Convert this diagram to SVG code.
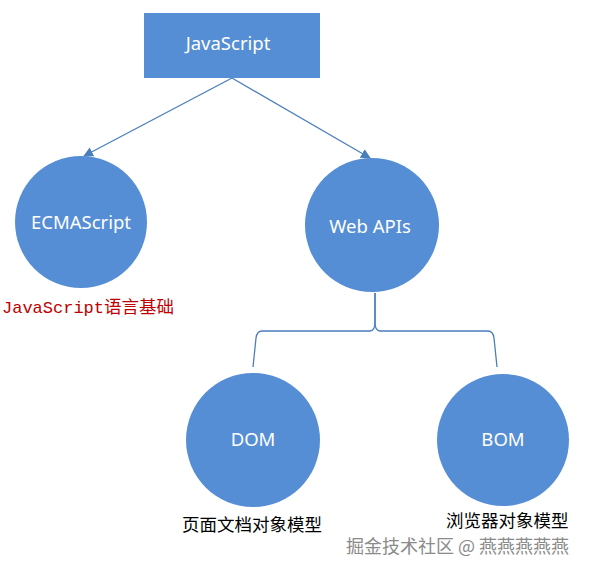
<svg xmlns="http://www.w3.org/2000/svg" width="590" height="569" viewBox="0 0 590 569">
<defs>
<style>
.shape{fill:#558ed5}
.lbl{fill:#ffffff;font-family:"Noto Sans","Open Sans",sans-serif;font-size:18.5px;text-anchor:middle}
.cap{fill:#000000;font-family:"Noto Sans CJK SC",sans-serif;font-size:17.5px}
.conn{stroke:#4a7ebb;stroke-width:1.3;fill:none}
</style>
<marker id="ah" markerWidth="10" markerHeight="10" refX="9" refY="5" orient="auto" markerUnits="userSpaceOnUse">
<path d="M0,0 L10,5 L0,10 Z" fill="#4a7ebb"/>
</marker>
</defs>
<rect width="590" height="569" fill="#ffffff"/>
<g id="connectors">
<line class="conn" x1="232" y1="78" x2="84" y2="156" marker-end="url(#ah)"/>
<line class="conn" x1="232" y1="78" x2="370" y2="158" marker-end="url(#ah)"/>
<path class="conn" d="M375,293 L375,322 Q375,331 370,331 L262,331 Q257,331 256,338 L253,367"/>
<path class="conn" d="M375,293 L375,322 Q375,331 380,331 L488,331 Q493,331 494,338 L497,367"/>
</g>
<g id="javascript">
<rect class="shape" x="144" y="13" width="176" height="65"/>
<text class="lbl" x="228" y="50">JavaScript</text>
</g>
<g id="ecmascript">
<circle class="shape" cx="81" cy="222" r="66"/>
<text class="lbl" x="81" y="229">ECMAScript</text>
<text x="2" y="313" fill="#c00000"><tspan font-family="Liberation Mono, monospace" font-size="17">JavaScript</tspan><tspan font-family="Noto Sans CJK SC, sans-serif" font-size="17.5">语言基础</tspan></text>
</g>
<g id="webapis">
<circle class="shape" cx="372" cy="225" r="67"/>
<text class="lbl" x="370" y="233">Web APIs</text>
</g>
<g id="dom">
<circle class="shape" cx="253" cy="440" r="67"/>
<text class="lbl" x="253" y="446">DOM</text>
<text class="cap" x="182" y="531">页面文档对象模型</text>
</g>
<g id="bom">
<circle class="shape" cx="503" cy="440" r="66"/>
<text class="lbl" x="503" y="446">BOM</text>
<text class="cap" x="446" y="527">浏览器对象模型</text>
</g>
<text x="346" y="553" font-family="Noto Sans CJK SC, sans-serif" font-size="18" fill="#8a8a8a">掘金技术社区 @ 燕燕燕燕燕</text>
</svg>
